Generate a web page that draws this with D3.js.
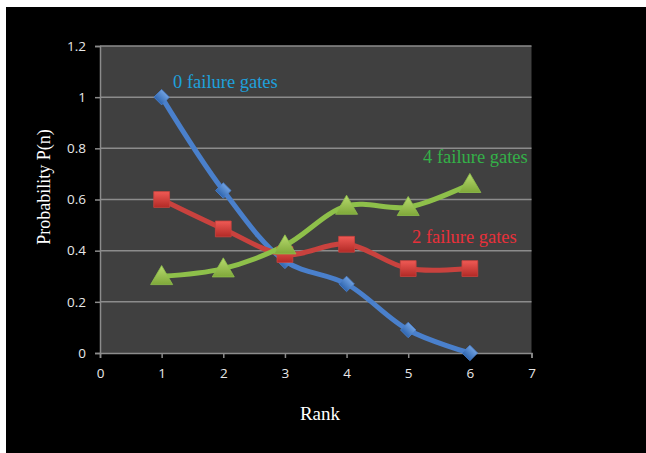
<!DOCTYPE html>
<html><head><meta charset="utf-8">
<script src="https://cdn.jsdelivr.net/npm/d3@7"></script>
<style>html,body{margin:0;padding:0;background:#fff;}svg{display:block;}</style>
</head><body>
<svg id="chart" width="646" height="453"></svg>
<script>
const ranks = [1, 2, 3, 4, 5, 6];
const gates0 = [1.0, 0.635, 0.36, 0.27, 0.09, 0.0];
const gates2 = [0.60, 0.485, 0.385, 0.425, 0.33, 0.33];
const gates4 = [0.30, 0.33, 0.42, 0.575, 0.57, 0.66];
const xTicks = [0, 1, 2, 3, 4, 5, 6, 7];
const yTicks = [0, 0.2, 0.4, 0.6, 0.8, 1, 1.2];
const seriesNames = ["0 failure gates", "2 failure gates", "4 failure gates"];

const svg = d3.select("#chart");
svg.append("rect").attr("x", 6).attr("y", 7).attr("width", 640).attr("height", 446).attr("fill", "#000");

const x = d3.scaleLinear().domain([0, 7]).range([100, 531.5]);
const y = d3.scaleLinear().domain([0, 1.2]).range([353, 46]);

svg.append("rect").attr("x", x(0)).attr("y", y(1.2)).attr("width", x(7) - x(0)).attr("height", y(0) - y(1.2)).attr("fill", "#404040");

// gridlines
svg.append("g").selectAll("line").data(yTicks.filter(d => d > 0)).join("line")
  .attr("x1", x(0)).attr("x2", x(7)).attr("y1", d => y(d)).attr("y2", d => y(d))
  .attr("stroke", "#8c8c8c").attr("stroke-width", 1.5);

const fmt = d => d3.format("")(+d.toFixed(1));
const yAxis = svg.append("g").attr("transform", `translate(${x(0)},0)`)
  .call(d3.axisLeft(y).tickValues(yTicks).tickFormat(fmt).tickSize(5).tickPadding(9));
const xAxis = svg.append("g").attr("transform", `translate(0,${y(0)})`)
  .call(d3.axisBottom(x).tickValues(xTicks).tickFormat(d3.format("d")).tickSize(5).tickPadding(10));
[yAxis, xAxis].forEach(a => {
  a.select(".domain").attr("stroke", "#8c8c8c").attr("stroke-width", 1.5);
  a.selectAll(".tick line").attr("stroke", "#8c8c8c").attr("stroke-width", 1.5);
  a.selectAll(".tick text").attr("fill", "#e8e8e8").attr("font-family", "Open Sans, sans-serif").attr("font-size", 13.5);
});

const defs = svg.append("defs");
function grad(id, c1, c2) {
  const g = defs.append("linearGradient").attr("id", id).attr("x1", 0).attr("y1", 0).attr("x2", 0).attr("y2", 1);
  g.append("stop").attr("offset", "0%").attr("stop-color", c1);
  g.append("stop").attr("offset", "100%").attr("stop-color", c2);
}
grad("gb", "#6fa0e0", "#2f66b0");
grad("gr", "#f05a55", "#b22a26");
grad("gg", "#b8db6e", "#7fa83a");

const line = d3.line().x((d, i) => x(ranks[i])).y(d => y(d)).curve(d3.curveCatmullRom.alpha(0.5));

const series = [
  {vals: gates0, color: "#4a80cc", fill: "url(#gb)", shape: d3.symbolSquare, size: 120, rot: 45, dy: 0, labelColor: "#1ea0dc"},
  {vals: gates2, color: "#c9423e", fill: "url(#gr)", shape: d3.symbolSquare, size: 250, rot: 0, dy: 0, labelColor: "#e8303a"},
  {vals: gates4, color: "#8ec04a", fill: "url(#gg)", shape: d3.symbolTriangle, size: 210, rot: 0, dy: 2, labelColor: "#34b048"}
];

series.forEach(s => {
  svg.append("path").datum(s.vals).attr("d", line).attr("fill", "none")
    .attr("stroke", s.color).attr("stroke-width", 5).attr("stroke-linejoin", "round");
});
series.forEach(s => {
  svg.append("g").selectAll("path").data(s.vals).join("path")
    .attr("transform", (d, i) => `translate(${x(ranks[i])},${y(d) + s.dy}) rotate(${s.rot})`)
    .attr("d", d3.symbol().type(s.shape).size(s.size))
    .attr("fill", s.fill).attr("stroke", s.color).attr("stroke-width", 0.8);
});

// series labels
const labelPos = [[173, 88], [412, 243], [423, 163]];
series.forEach((s, i) => {
  svg.append("text").attr("x", labelPos[i][0]).attr("y", labelPos[i][1])
    .attr("fill", s.labelColor).attr("font-family", "Liberation Serif, serif").attr("font-size", 18.5)
    .text(seriesNames[i]);
});

// axis titles
svg.append("text").attr("x", 320).attr("y", 420).attr("text-anchor", "middle")
  .attr("fill", "#fff").attr("font-family", "Liberation Serif, serif").attr("font-size", 19).text("Rank");
svg.append("text").attr("transform", "translate(50,187) rotate(-90)").attr("text-anchor", "middle")
  .attr("fill", "#fff").attr("font-family", "Liberation Serif, serif").attr("font-size", 18).text("Probability P(n)");
</script>
</body></html>
